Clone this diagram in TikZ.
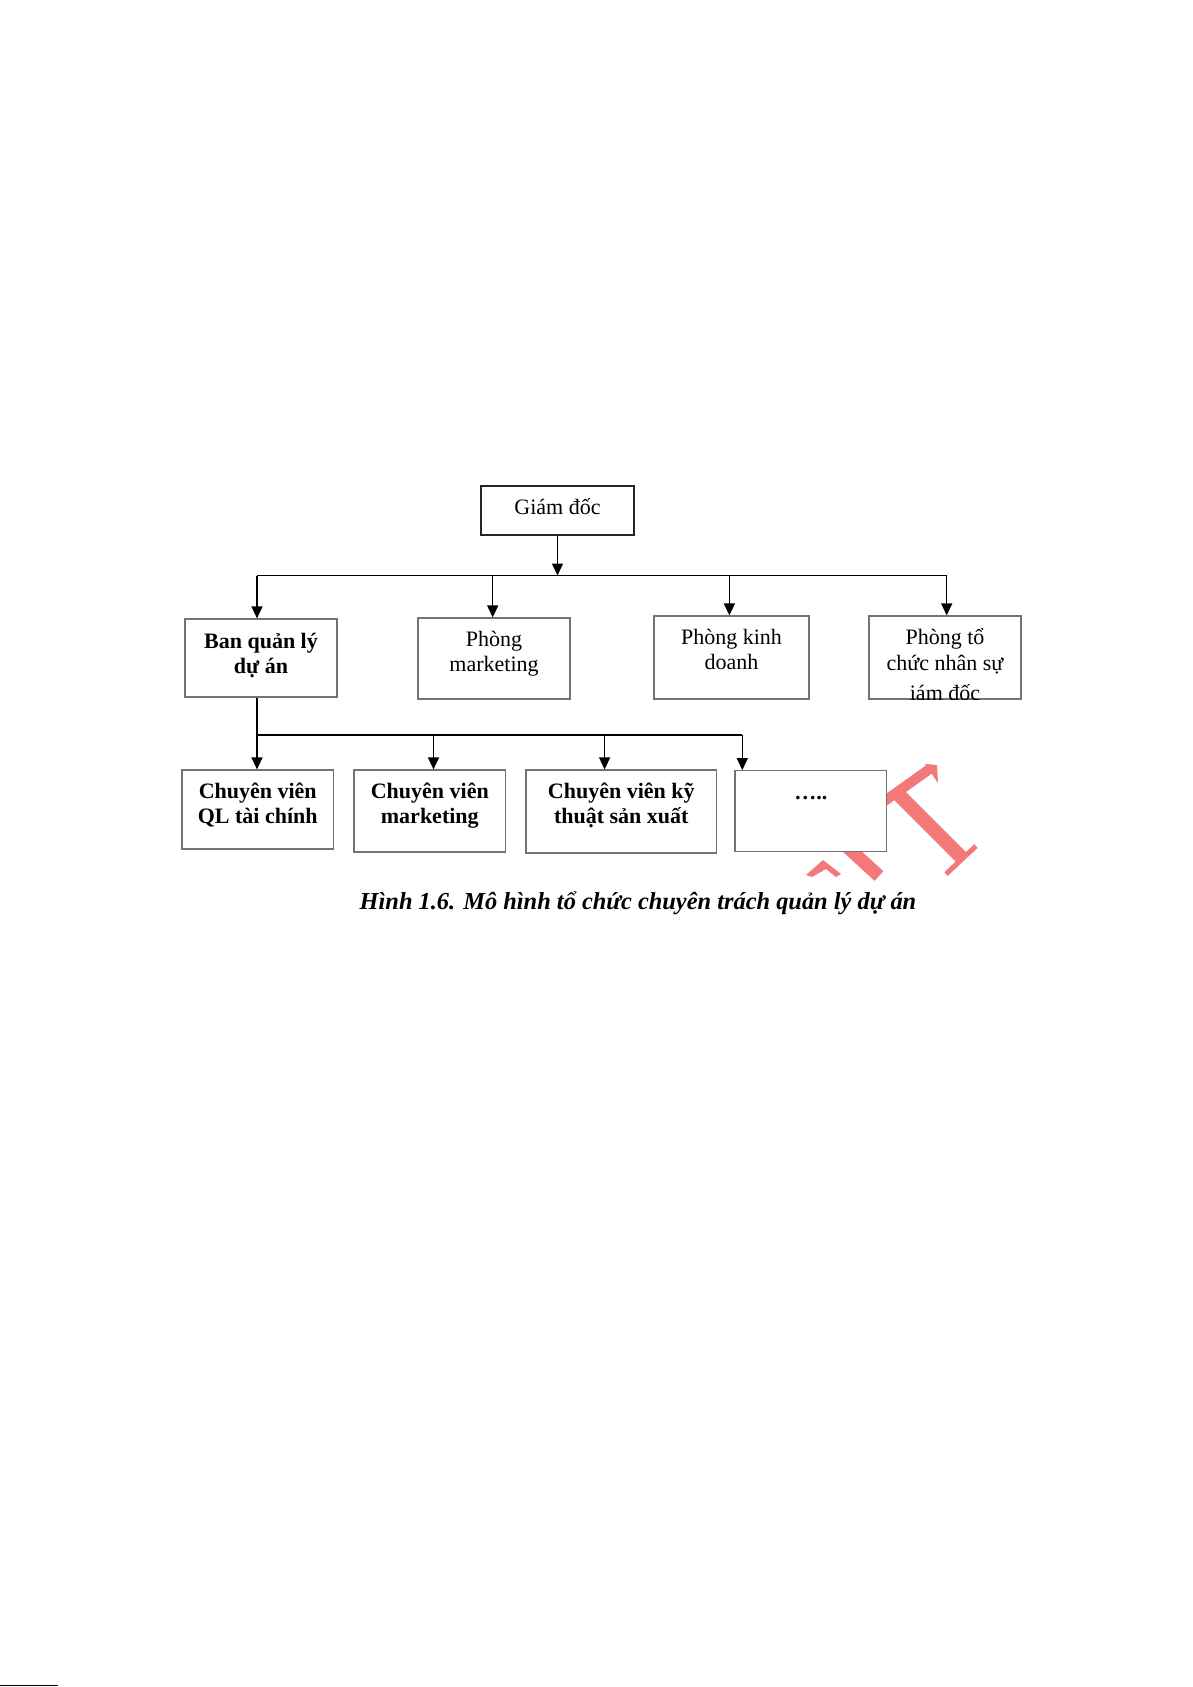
\documentclass[tikz,border=0pt]{standalone}
\usepackage{fontspec}
\setmainfont{Liberation Serif}
\usetikzlibrary{arrows.meta,positioning}
\definecolor{wmred}{RGB}{242,120,122}
\newcommand{\lnstrut}{\rule{0pt}{12pt}}

\begin{document}
\begin{tikzpicture}[
  x=0.5pt, y=-0.5pt,
  font=\fontsize{11}{12.5}\selectfont,
  orgbox/.style={draw=black!55, line width=0.6pt, fill=white, inner sep=0pt},
  boxtext/.style={inner sep=0pt, align=center},
  boldtext/.style={boxtext, font=\fontsize{11}{12.5}\selectfont\bfseries},
  link/.style={draw=black, line width=0.7pt},
  drop/.style={link, -{Triangle[length=6pt,width=5.5pt]}},
  wmstroke/.style={draw=wmred, line width=7pt}
]
\useasboundingbox (0,0) rectangle (1193,1687);
% watermark, behind the boxes
\draw[wmstroke] (897,793) -- (962,858);
\draw[wmstroke, line width=2.5pt] (946,874) -- (976,846);
\draw[wmstroke, line width=5pt] (872,810) -- (931,768);
\fill[wmred] (925,764) -- (937,765) -- (938,783) -- cycle;
\draw[wmstroke, line width=6.5pt] (845,845) -- (879,876);
\fill[wmred] (823,860) -- (841,874) -- (836,877) -- (826,869) -- (812,877) -- (806,875) -- cycle;

% boxes
\node[orgbox, draw=black!85, line width=0.8pt, minimum width=76.5pt, minimum height=24.5pt] (gd) at (557.5,510.5) {};
\node[orgbox, minimum width=76pt, minimum height=39pt] (bql) at (261,658) {};
\node[orgbox, minimum width=76pt, minimum height=40.5pt] (pmk) at (494,658.5) {};
\node[orgbox, minimum width=77.5pt, minimum height=41.5pt] (pkd) at (731.5,657.5) {};
\node[orgbox, minimum width=76pt, minimum height=41.5pt] (ptc) at (945,657.5) {};
\node[orgbox, minimum width=75.75pt, minimum height=39.5pt] (cvtc) at (257.75,809.5) {};
\node[orgbox, minimum width=75.8pt, minimum height=41pt] (cvmk) at (429.8,811) {};
\node[orgbox, minimum width=95.25pt, minimum height=41.5pt] (cvkt) at (621.25,811.5) {};
\node[orgbox, minimum width=75.85pt, minimum height=40.5pt] (etc) at (810.85,811.2) {};

% texts
\node[boxtext, below=2.5pt of gd.north] (gdT) {\lnstrut Giám đốc};
\node[boldtext, below=3pt of bql.north] (bqlT) {\lnstrut Ban quản lý\\dự án};
\node[boxtext, below=2.5pt of pmk.north] (pmkT) {\lnstrut Phòng\\marketing};
\node[boxtext, below=2.5pt of pkd.north] (pkdT) {\lnstrut Phòng kinh\\doanh};
\begin{scope}
  \clip (ptc.south west) rectangle (ptc.north east);
  \node[boxtext, font=\fontsize{11}{13}\selectfont, below=2.5pt of ptc.north] (ptcT) {\lnstrut Phòng tổ\\chức nhân sự\\[2pt]iám đốc};
\end{scope}
\node[boldtext, below=2.5pt of cvtc.north] (cvtcT) {\lnstrut Chuyên viên\\QL tài chính};
\node[boldtext, below=2.5pt of cvmk.north] (cvmkT) {\lnstrut Chuyên viên\\marketing};
\node[boldtext, below=2.5pt of cvkt.north] (cvktT) {\lnstrut Chuyên viên kỹ\\thuật sản xuất};
\node[boldtext, below=2.5pt of etc.north] (etcT) {\lnstrut …..};

% connectors
\coordinate (bar1w) at (257,575.5);
\coordinate (bar1e) at (946.7,575.5);
\coordinate (t2) at (492.7,575.5);
\coordinate (t3) at (729.4,575.5);
\coordinate (bar2w) at (257,735);
\coordinate (bar2e) at (742.3,735);
\coordinate (s2) at (433.5,735);
\coordinate (s3) at (604.6,735);

\draw[drop] (gd.south) -- (gd.south |- bar1w);
\draw[link] (bar1w) -- (bar1e);
\draw[drop] (bar1w) -- (bar1w |- bql.north);
\draw[drop] (t2) -- (t2 |- pmk.north);
\draw[drop] (t3) -- (t3 |- pkd.north);
\draw[drop] (bar1e) -- (bar1e |- ptc.north);

\draw[link] (bar2w |- bql.south) -- (bar2w) -- (bar2e);
\draw[drop] (bar2w) -- (bar2w |- cvtc.north);
\draw[drop] (s2) -- (s2 |- cvmk.north);
\draw[drop] (s3) -- (s3 |- cvkt.north);
\draw[drop] (bar2e) -- (bar2e |- etc.north);

% caption
\node[inner sep=0pt, anchor=base, font=\fontsize{12.2}{14}\selectfont\bfseries\itshape] (caption) at (638,909) {Hình 1.6. Mô hình tổ chức chuyên trách quản lý dự án};

\draw[line width=0.5pt] (0,1685.5) -- (58,1685.5);
\end{tikzpicture}
\end{document}
